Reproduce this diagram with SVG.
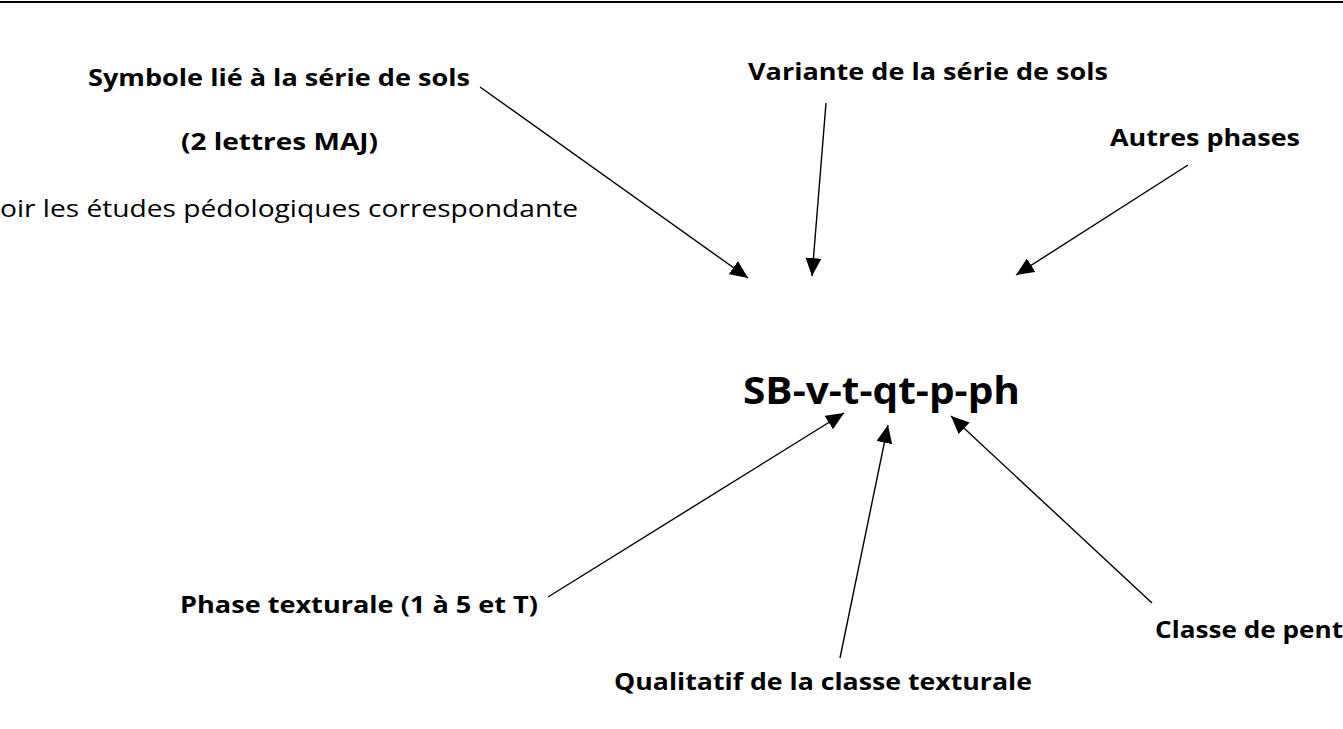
<svg xmlns="http://www.w3.org/2000/svg" width="1343" height="729" viewBox="0 0 1343 729">
<style>
.b{font-family:"Open Sans","Liberation Sans",Arial,sans-serif;font-weight:bold;font-size:23px;fill:#000}
.r{font-family:"Open Sans","Liberation Sans",Arial,sans-serif;font-size:23px;fill:#000}
.big{font-family:"Open Sans","Liberation Sans",Arial,sans-serif;font-weight:bold;font-size:37px;fill:#000}
.c{stroke:#000;stroke-width:1.4;fill:none;marker-end:url(#ah)}
</style>
<defs>
<marker id="ah" markerUnits="userSpaceOnUse" markerWidth="20" markerHeight="16" refX="18" refY="8" orient="auto">
<path d="M0,0 L18,8 L0,16 Z" fill="#000"/>
</marker>
</defs>
<rect width="1343" height="729" fill="#fff"/>
<line x1="0" y1="2" x2="1343" y2="2" stroke="#000" stroke-width="2"/>
<g id="connectors">
<line class="c" x1="480" y1="87" x2="748" y2="278"/>
<line class="c" x1="826" y1="103" x2="812" y2="276"/>
<line class="c" x1="1188" y1="165" x2="1016" y2="275"/>
<line class="c" x1="548" y1="597" x2="844" y2="413"/>
<line class="c" x1="840" y1="658" x2="888" y2="425"/>
<line class="c" x1="1152" y1="603" x2="951" y2="416"/>
</g>
<g id="n-symbole">
<text class="b" x="88" y="86" textLength="382" lengthAdjust="spacingAndGlyphs">Symbole lié à la série de sols</text>
<text class="b" x="181" y="150" textLength="197" lengthAdjust="spacingAndGlyphs">(2 lettres MAJ)</text>
<text class="r" x="0" y="217" textLength="578" lengthAdjust="spacingAndGlyphs">oir les études pédologiques correspondante</text>
</g>
<g id="n-variante"><text class="b" x="748" y="80" textLength="360" lengthAdjust="spacingAndGlyphs">Variante de la série de sols</text></g>
<g id="n-autres"><text class="b" x="1110" y="146" textLength="190" lengthAdjust="spacingAndGlyphs">Autres phases</text></g>
<g id="n-code"><text class="big" x="743" y="404" textLength="277" lengthAdjust="spacingAndGlyphs">SB-v-t-qt-p-ph</text></g>
<g id="n-phase"><text class="b" x="180" y="613" textLength="358" lengthAdjust="spacingAndGlyphs">Phase texturale (1 à 5 et T)</text></g>
<g id="n-qualitatif"><text class="b" x="614" y="690" textLength="418" lengthAdjust="spacingAndGlyphs">Qualitatif de la classe texturale</text></g>
<g id="n-pente"><text class="b" x="1155" y="638" textLength="188" lengthAdjust="spacingAndGlyphs">Classe de pent</text></g>
</svg>
